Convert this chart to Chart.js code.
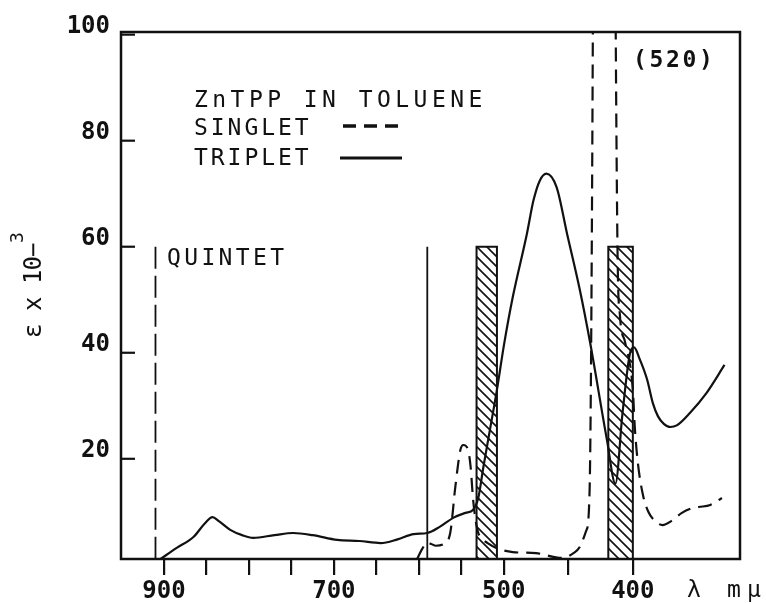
<!DOCTYPE html>
<html lang="en">
<head>
<meta charset="UTF-8">
<title>ZnTPP in toluene</title>
<script src="https://cdn.jsdelivr.net/npm/chart.js@4.4.1/dist/chart.umd.min.js"></script>
<style>
  html, body { margin: 0; padding: 0; background: #fff; }
  canvas { display: block; }
</style>
</head>
<body>
<canvas id="spectrum" width="766" height="604"></canvas>
<script>
// wavelength (mμ) and ε × 10^-3 along each curve
const tripletNm  = [904, 885, 865, 852, 843, 835, 822, 808, 795, 770, 748, 725, 696, 670, 645, 625, 606, 590, 575, 559,
                    545, 536, 530, 524, 516, 508, 500, 493, 482, 477, 472, 467, 459, 451, 441, 433, 420, 413.5, 408, 402,
                    399, 395, 389, 384.5, 380.5, 376, 371, 366, 356, 343, 329];
const tripletEps = [1.1, 3.2, 5.3, 7.8, 9.0, 8.2, 6.6, 5.6, 5.1, 5.6, 6.0, 5.6, 4.7, 4.5, 4.1, 4.8, 5.8, 6.0, 7.2, 8.9,
                    9.8, 10.4, 12.6, 18.4, 25.7, 33.0, 41.2, 50.5, 62.5, 68.7, 72.5, 73.8, 71.2, 62.5, 51.8, 41.8, 23.5, 15.3, 28.6, 40.1,
                    41.0, 39.0, 35.0, 30.5, 28.0, 26.6, 26.0, 26.3, 28.6, 32.4, 37.7];

// singlet Soret band peaks off scale at 520
const singletNm  = [602, 596, 590, 580, 571, 563, 557, 551, 547.5, 542, 539, 536, 531, 525, 519, 506, 493, 475, 455, 446,
                    441, 436, 433.5, 423, 412, 410, 406, 400, 398.5, 396, 392, 388, 383, 377, 370, 362, 355, 349, 340, 331];
const singletEps = [1.1, 3.0, 4.2, 3.6, 3.9, 6.0, 14.7, 21.7, 22.6, 21.7, 18.5, 12.2, 6.6, 4.9, 4.1, 3.0, 2.4, 2.2, 1.3, 2.2,
                    3.4, 6.5, 14, 520, 62, 47, 42, 33, 26, 19, 13, 10, 8.3, 7.5, 8.3, 9.8, 10.6, 10.9, 11.3, 12.6];

// calculated transitions
const quintetLineNm = 910;
const tripletLineNm = 590;
const bandNm = [[532, 508], [419, 400]];
const transitionEps = 60;

const xTicks  = [900, 850, 800, 750, 700, 650, 600, 550, 500, 450, 400];
const xLabels = [900, 700, 500, 400];
const yTicks  = [20, 40, 60, 80, 100];

const INK = '#111';
const MONO = '"DejaVu Sans Mono", monospace';

// wavelength axis: plain linear above 500 mμ, stretched below it
class SplitScale extends Chart.LinearScale {
  static id = 'split';
  static defaults = Chart.LinearScale.defaults;
  _dist(v) {
    const at = this.options.split.at, k = this.options.split.factor;
    return v >= at ? this.max - v : (this.max - at) + (at - v) * k;
  }
  getPixelForValue(v) {
    if (v === null || isNaN(v)) return NaN;
    return this.getPixelForDecimal(this._dist(v) / this._dist(this.min));
  }
  getValueForPixel(px) {
    const at = this.options.split.at, k = this.options.split.factor;
    const d = this.getDecimalForPixel(px) * this._dist(this.min);
    const head = this.max - at;
    return d <= head ? this.max - d : at - (d - head) / k;
  }
}
Chart.register(SplitScale);

function hatchPattern() {
  const c = document.createElement('canvas');
  c.width = c.height = 10;
  const g = c.getContext('2d');
  g.strokeStyle = INK;
  g.lineWidth = 1.6;
  g.beginPath();
  g.moveTo(-2, -2); g.lineTo(12, 12);
  g.moveTo(8, -2);  g.lineTo(12, 2);
  g.moveTo(-2, 8);  g.lineTo(2, 12);
  g.stroke();
  return g.createPattern(c, 'repeat');
}

function spaced(ctx, text, x, y, pitch) {
  [...text].forEach((ch, i) => ctx.fillText(ch, x + i * pitch, y));
}

const pts = (xs, ys) => xs.map((x, i) => ({ x, y: ys[i] }));
// drawn from the top down so the dash pattern starts at the top
const stick = nm => [{ x: nm, y: transitionEps }, { x: nm, y: 0 }];

const curve = {
  borderColor: INK, borderWidth: 2.2, pointRadius: 0, fill: false,
  cubicInterpolationMode: 'monotone', order: 0
};
const hatch = hatchPattern();

// frame, inward y ticks, legend and lettering
const decor = {
  id: 'decor',
  afterDraw(chart) {
    const { ctx, chartArea: a, scales: { y } } = chart;
    ctx.save();
    ctx.strokeStyle = INK;
    ctx.fillStyle = INK;
    ctx.lineWidth = 2.5;
    ctx.strokeRect(a.left, a.top, a.width, a.height);

    ctx.lineWidth = 2.2;
    y.ticks.forEach(t => {
      const py = y.getPixelForValue(t.value);
      ctx.beginPath();
      ctx.moveTo(a.left, py);
      ctx.lineTo(a.left + 14, py);
      ctx.stroke();
    });

    ctx.textBaseline = 'alphabetic';
    ctx.textAlign = 'left';
    ctx.font = '23px ' + MONO;
    spaced(ctx, 'ZnTPP IN TOLUENE', 194, 107, 18.3);
    spaced(ctx, 'SINGLET', 194, 135, 16.8);
    spaced(ctx, 'TRIPLET', 194, 165, 16.8);
    spaced(ctx, 'QUINTET', 167, 265, 17.2);
    spaced(ctx, 'λ mμ', 687, 597, 20);

    ctx.font = 'bold 23px ' + MONO;
    spaced(ctx, '(520)', 633, 67, 16.5);

    ctx.lineWidth = 3.5;
    ctx.setLineDash([13, 8]);
    ctx.beginPath(); ctx.moveTo(343, 126); ctx.lineTo(403, 126); ctx.stroke();
    ctx.setLineDash([]);
    ctx.lineWidth = 3;
    ctx.beginPath(); ctx.moveTo(340, 158); ctx.lineTo(402, 158); ctx.stroke();

    // ε × 10^-3, reading upwards
    ctx.translate(41, 338);
    ctx.rotate(-Math.PI / 2);
    ctx.font = '24px ' + MONO;
    spaced(ctx, 'ε x 10−', 0, 0, 13.5);
    ctx.font = '18px ' + MONO;
    ctx.fillText('3', 95, -18);
    ctx.restore();
  }
};

new Chart(document.getElementById('spectrum'), {
  type: 'line',
  data: {
    datasets: [
      { ...curve, label: 'Triplet', data: pts(tripletNm, tripletEps) },
      { ...curve, label: 'Singlet', data: pts(singletNm, singletEps), borderDash: [14, 8] },
      { label: 'Quintet', data: stick(quintetLineNm), borderColor: INK, borderWidth: 1.8,
        borderDash: [22, 7], pointRadius: 0, order: 1 },
      { label: 'Triplet transition', data: stick(tripletLineNm), borderColor: INK, borderWidth: 1.8,
        pointRadius: 0, order: 1 },
      ...bandNm.map(([a, b]) => ({
        label: 'Band ' + a + '–' + b,
        data: [{ x: a, y: 0 }, { x: a, y: transitionEps }, { x: b, y: transitionEps }, { x: b, y: 0 }],
        borderColor: INK, borderWidth: 2, backgroundColor: hatch, fill: 'origin',
        pointRadius: 0, order: 2
      }))
    ]
  },
  options: {
    responsive: false,
    animation: false,
    events: [],
    layout: { padding: { top: 32, right: 26, left: 0, bottom: 0 } },
    plugins: { legend: { display: false }, tooltip: { enabled: false } },
    scales: {
      x: {
        type: 'split',
        split: { at: 500, factor: 1.52 },
        min: 317,
        max: 950.6,
        bounds: 'data',
        afterBuildTicks: s => { s.ticks = xTicks.map(v => ({ value: v })); },
        afterFit: s => { s.height = 45; },
        border: { display: false },
        grid: { drawOnChartArea: false, drawTicks: true, tickLength: 16, lineWidth: 2.2, color: INK },
        ticks: {
          autoSkip: false, maxRotation: 0, padding: 2, color: INK,
          font: { family: MONO, size: 24, weight: 'bold' },
          callback: v => xLabels.includes(v) ? String(v) : ''
        }
      },
      y: {
        min: 1.1,
        max: 100.5,
        bounds: 'data',
        afterBuildTicks: s => { s.ticks = yTicks.map(v => ({ value: v })); },
        afterFit: s => { s.width = 121; },
        border: { display: false },
        grid: { display: false, drawTicks: false },
        ticks: {
          padding: 11, labelOffset: -8, color: INK,
          font: { family: MONO, size: 24, weight: 'bold' }
        }
      }
    }
  },
  plugins: [decor]
});
</script>
</body>
</html>
